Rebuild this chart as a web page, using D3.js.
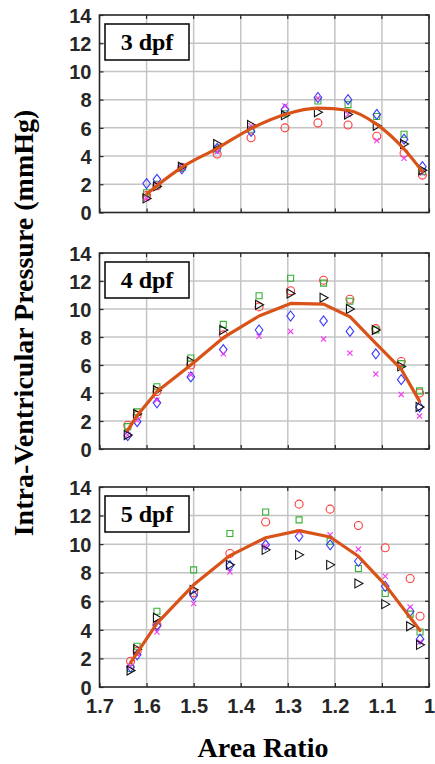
<!DOCTYPE html>
<html><head><meta charset="utf-8">
<script src="https://cdn.jsdelivr.net/npm/d3@7"></script>
<style>body{margin:0;background:#fff}svg{display:block}</style>
</head><body>
<script>
// ---- data ----
const panelLabels = ["3 dpf", "4 dpf", "5 dpf"];
const xTicks = [1.7, 1.6, 1.5, 1.4, 1.3, 1.2, 1.1, 1];
const yTicks = [0, 2, 4, 6, 8, 10, 12, 14];

// 3 dpf
const ratio3   = [1.600, 1.578, 1.525, 1.450, 1.378, 1.306, 1.236, 1.172, 1.111, 1.053, 1.014];
const red3     = [1.2, 1.9, 3.2, 4.15, 5.3, 6.0, 6.35, 6.2, 5.4, 4.2, 2.65];
const green3   = [1.4, 2.0, 3.2, 4.5, 5.9, 7.0, 7.9, 7.65, 6.8, 5.55, 2.9];
const blue3    = [2.05, 2.35, 3.1, 4.55, 5.75, 7.3, 8.15, 8.0, 6.95, 5.2, 3.25];
const magenta3 = [1.0, 2.0, 3.2, 4.3, 6.15, 7.55, 8.1, 6.95, 5.1, 3.85, 2.8];
const black3   = [1.0, 1.85, 3.25, 4.85, 6.2, 6.9, 7.1, 6.95, 6.15, 4.85, 3.0];
const fit3     = [1.3, 1.9, 3.2, 4.55, 5.95, 6.95, 7.4, 7.25, 6.25, 4.5, 2.9];

// 4 dpf
const ratio4   = [1.640, 1.620, 1.578, 1.506, 1.437, 1.361, 1.294, 1.224, 1.168, 1.113, 1.059, 1.020];
const red4     = [1.7, 2.4, 4.1, 6.0, 8.15, 10.15, 11.3, 12.05, 10.7, 8.6, 6.25, 4.0];
const green4   = [1.6, 2.65, 4.45, 6.5, 8.9, 10.95, 12.2, 11.85, 10.55, 8.5, 6.1, 4.15];
const blue4    = [0.95, 1.95, 3.3, 5.15, 7.1, 8.5, 9.5, 9.15, 8.4, 6.8, 4.95, 3.0];
const magenta4 = [1.0, 2.05, 3.5, 5.3, 6.8, 8.05, 8.4, 7.85, 6.85, 5.35, 3.9, 2.35];
const black4   = [1.0, 2.5, 4.2, 6.25, 8.5, 10.3, 11.1, 10.8, 10.0, 8.5, 5.9, 3.0];
const fit4     = [1.35, 2.4, 4.1, 6.0, 7.95, 9.5, 10.4, 10.35, 9.45, 7.55, 5.7, 3.4];

// 5 dpf
const ratio5   = [1.634, 1.620, 1.578, 1.500, 1.423, 1.347, 1.276, 1.210, 1.150, 1.093, 1.040, 1.019];
const red5     = [1.8, 2.5, 4.35, 6.6, 9.35, 11.55, 12.8, 12.45, 11.3, 9.75, 7.6, 4.95];
const green5   = [1.3, 2.85, 5.3, 8.2, 10.75, 12.25, 11.7, 10.2, 8.3, 6.55, 5.1, 3.85];
const blue5    = [1.4, 2.25, 4.3, 6.4, 8.5, 9.95, 10.55, 9.95, 8.8, 7.05, 5.3, 3.35];
const magenta5 = [1.45, 2.3, 3.85, 5.85, 8.05, 9.85, 10.85, 10.65, 9.65, 7.75, 5.6, 3.15];
const black5   = [1.15, 2.65, 4.85, 6.8, 8.55, 9.6, 9.25, 8.55, 7.25, 5.8, 4.25, 2.95];
const fitRatio5 = [1.634, 1.578, 1.500, 1.423, 1.347, 1.276, 1.210, 1.150, 1.093, 1.019];
const fit5      = [1.7, 4.45, 7.15, 9.2, 10.45, 10.95, 10.5, 9.15, 7.15, 3.95];

// ---- drawing ----
const W = 435, H = 764;
const svg = d3.select("body").append("svg").attr("width", W).attr("height", H);

const x = d3.scaleLinear().domain([1.7, 1.0]).range([99.5, 429]);
const panelBoxes = [[15, 212.5], [253, 449], [487, 687]];

const seriesStyle = [
  {name: "red", color: "#ff3b3b", shape: "circle"},
  {name: "green", color: "#35b035", shape: "square"},
  {name: "blue", color: "#3a3aff", shape: "diamond"},
  {name: "magenta", color: "#f03cf0", shape: "x"},
  {name: "black", color: "#111", shape: "tri"}
];

const panelData = [
  {ratio: ratio3, series: [red3, green3, blue3, magenta3, black3], fitX: ratio3, fit: fit3, curve: d3.curveMonotoneX},
  {ratio: ratio4, series: [red4, green4, blue4, magenta4, black4], fitX: ratio4, fit: fit4, curve: d3.curveLinear},
  {ratio: ratio5, series: [red5, green5, blue5, magenta5, black5], fitX: fitRatio5, fit: fit5, curve: d3.curveLinear}
];

const shapePath = {
  circle: "M4,0A4,4 0 1,1 -4,0A4,4 0 1,1 4,0Z",
  square: "M-3,-3H3V3H-3Z",
  diamond: "M0,-5L3.8,0L0,5L-3.8,0Z",
  x: "M-2.6,-2.6L2.6,2.6M-2.6,2.6L2.6,-2.6",
  tri: "M-3.5,-4.5L4.5,0L-3.5,4.5Z"
};

panelData.forEach((p, pi) => {
  const [top, bottom] = panelBoxes[pi];
  const y = d3.scaleLinear().domain([0, 14]).range([bottom, top]);
  const g = svg.append("g");

  // grid
  g.selectAll(".gx").data(xTicks.slice(1, -1)).enter().append("line")
    .attr("x1", d => x(d)).attr("x2", d => x(d)).attr("y1", top).attr("y2", bottom)
    .attr("stroke", "#c4c4c4").attr("stroke-width", 1.5);
  g.selectAll(".gy").data(yTicks.slice(1, -1)).enter().append("line")
    .attr("y1", d => y(d)).attr("y2", d => y(d)).attr("x1", x(1.7)).attr("x2", x(1.0))
    .attr("stroke", "#c4c4c4").attr("stroke-width", 1.5);

  // axes (left and bottom with library axes, ticks inward)
  const yAxis = d3.axisLeft(y).tickValues(yTicks).tickSize(-4).tickPadding(8).tickFormat(d3.format("d"));
  const ya = g.append("g").attr("transform", `translate(${x(1.7)},0)`).call(yAxis);
  ya.select(".domain").remove();
  ya.selectAll("line").attr("stroke", "#262626").attr("stroke-width", 1.2);
  ya.selectAll("text").attr("font-family", "Liberation Sans, Arial, sans-serif")
    .attr("font-weight", "bold").attr("font-size", 20).attr("fill", "#262626").attr("dy", "0.36em");

  const xAxis = d3.axisBottom(x).tickValues(xTicks).tickSize(-4).tickPadding(12).tickFormat(d => d === 1 ? "1" : d3.format(".1f")(d));
  const xa = g.append("g").attr("transform", `translate(0,${bottom})`).call(xAxis);
  xa.select(".domain").remove();
  xa.selectAll("line").attr("stroke", "#262626").attr("stroke-width", 1.2);
  if (pi === 2) {
    xa.selectAll("text").attr("font-family", "Liberation Sans, Arial, sans-serif")
      .attr("font-weight", "bold").attr("font-size", 20).attr("fill", "#262626");
  } else {
    xa.selectAll("text").remove();
  }
  // top / right inward ticks
  g.selectAll(".tt").data(xTicks).enter().append("line")
    .attr("x1", d => x(d)).attr("x2", d => x(d)).attr("y1", top).attr("y2", top + 4)
    .attr("stroke", "#262626").attr("stroke-width", 1.2);
  g.selectAll(".rt").data(yTicks).enter().append("line")
    .attr("y1", d => y(d)).attr("y2", d => y(d)).attr("x1", x(1.0)).attr("x2", x(1.0) - 4)
    .attr("stroke", "#262626").attr("stroke-width", 1.2);

  // box
  g.append("rect").attr("x", x(1.7)).attr("y", top).attr("width", x(1.0) - x(1.7)).attr("height", bottom - top)
    .attr("fill", "none").attr("stroke", "#262626").attr("stroke-width", 1.6);

  // markers
  p.series.forEach((vals, si) => {
    const st = seriesStyle[si];
    g.selectAll(".m" + si).data(vals).enter().append("path")
      .attr("transform", (d, i) => `translate(${x(p.ratio[i])},${y(d)})`)
      .attr("d", shapePath[st.shape])
      .attr("fill", "none").attr("stroke", st.color).attr("stroke-width", 1.1);
  });

  // fit line
  const line = d3.line().x((d, i) => x(p.fitX[i])).y(d => y(d)).curve(p.curve);
  g.append("path").datum(p.fit).attr("d", line)
    .attr("fill", "none").attr("stroke", "#d95319").attr("stroke-width", 3.2)
    .attr("stroke-linejoin", "round").attr("stroke-linecap", "round");

  // label box
  const bx = 105, by = top + 9, bw = 84, bh = 36;
  g.append("rect").attr("x", bx).attr("y", by).attr("width", bw).attr("height", bh)
    .attr("fill", "#fff").attr("stroke", "#111").attr("stroke-width", 1.6);
  g.append("text").attr("x", bx + bw / 2).attr("y", by + bh / 2 + 8)
    .attr("text-anchor", "middle").attr("font-family", "Liberation Serif, Times New Roman, serif")
    .attr("font-weight", "bold").attr("font-size", 24).attr("fill", "#000")
    .text(panelLabels[pi]);
});

// axis titles
svg.append("text").attr("transform", "translate(33,323) rotate(-90)")
  .attr("text-anchor", "middle").attr("font-family", "Liberation Serif, Times New Roman, serif")
  .attr("font-weight", "bold").attr("font-size", 28).attr("fill", "#000")
  .text("Intra-Ventricular Pressure (mmHg)");
svg.append("text").attr("x", 263).attr("y", 757)
  .attr("text-anchor", "middle").attr("font-family", "Liberation Serif, Times New Roman, serif")
  .attr("font-weight", "bold").attr("font-size", 28).attr("fill", "#000")
  .text("Area Ratio");
</script>
</body></html>
